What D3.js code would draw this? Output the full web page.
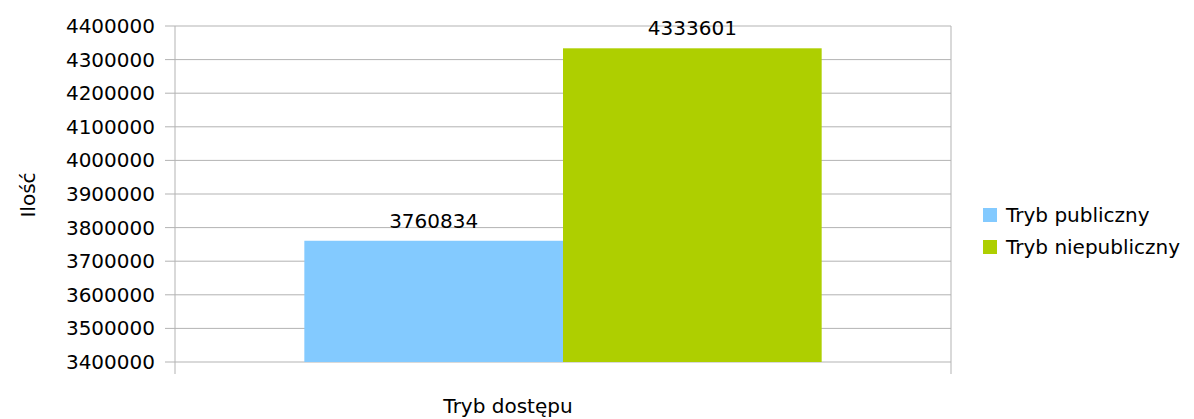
<!DOCTYPE html>
<html>
<head>
<meta charset="utf-8">
<script src="https://cdn.jsdelivr.net/npm/d3@7"></script>
<style>
  body { margin: 0; background: #fff; }
  text { font-family: "DejaVu Sans", sans-serif; fill: #000; }
</style>
</head>
<body>
<svg class="chart-svg" width="1194" height="419"></svg>
<script>
// chart values
const categories = ['Tryb dostępu']
const seriesNames = ['Tryb publiczny', 'Tryb niepubliczny']
const seriesValues = [3760834, 4333601]
const seriesColors = ['#83caff', '#aecf00']
const yTicks = [3400000, 3500000, 3600000, 3700000, 3800000, 3900000, 4000000, 4100000, 4200000, 4300000, 4400000]

const margin = { top: 26, left: 175, right: 243, bottom: 57 }
const width = 1194 - margin.left - margin.right
const height = 419 - margin.top - margin.bottom

const svg = d3.select('.chart-svg')
const g = svg.append('g').attr('transform', `translate(${margin.left},${margin.top})`)

const x = d3.scaleBand().domain(categories).range([0, width]).paddingInner(0).paddingOuter(0)
const inner = d3.scaleBand().domain(seriesNames)
  .range([x.bandwidth() / 6, x.bandwidth() * 5 / 6])
const y = d3.scaleLinear().domain([3400000, 4400000]).range([height, 0])

// horizontal grid lines with left ticks
g.selectAll('.grid')
  .data(yTicks)
  .enter().append('line')
  .attr('class', 'grid')
  .attr('x1', -10)
  .attr('x2', width)
  .attr('y1', d => y(d))
  .attr('y2', d => y(d))
  .attr('stroke', '#b3b3b3')
  .attr('stroke-width', 1)

// y axis labels
g.selectAll('.y-label')
  .data(yTicks)
  .enter().append('text')
  .attr('class', 'y-label')
  .attr('x', -20)
  .attr('y', d => y(d))
  .attr('dy', '.35em')
  .attr('text-anchor', 'end')
  .style('font-size', '20px')
  .text(d => d)

// vertical lines at the category edges
const edges = [0, width]
g.selectAll('.edge')
  .data(edges)
  .enter().append('line')
  .attr('class', 'edge')
  .attr('x1', d => d)
  .attr('x2', d => d)
  .attr('y1', 0)
  .attr('y2', height + 12)
  .attr('stroke', '#b3b3b3')
  .attr('stroke-width', 1)

// bars
const bars = seriesNames.map((name, i) => ({ category: categories[0], name, value: seriesValues[i], color: seriesColors[i] }))
g.selectAll('.bar')
  .data(bars)
  .enter().append('rect')
  .attr('class', 'bar')
  .attr('x', d => x(d.category) + inner(d.name))
  .attr('y', d => y(d.value))
  .attr('width', inner.bandwidth())
  .attr('height', d => height - y(d.value))
  .attr('fill', d => d.color)

// value labels
g.selectAll('.value-label')
  .data(bars)
  .enter().append('text')
  .attr('class', 'value-label')
  .attr('x', d => x(d.category) + inner(d.name) + inner.bandwidth() / 2)
  .attr('y', d => y(d.value) - 13)
  .attr('text-anchor', 'middle')
  .style('font-size', '20px')
  .text(d => d.value)

// axis titles
svg.append('text')
  .attr('x', 508)
  .attr('y', 413)
  .attr('text-anchor', 'middle')
  .style('font-size', '20px')
  .text(categories[0])

svg.append('text')
  .attr('transform', 'translate(35,195) rotate(-90)')
  .attr('text-anchor', 'middle')
  .style('font-size', '20px')
  .text('Ilość')

// legend
const legend = svg.append('g').attr('transform', 'translate(983,208)')
const items = legend.selectAll('.legend-item')
  .data(bars)
  .enter().append('g')
  .attr('class', 'legend-item')
  .attr('transform', (d, i) => `translate(0,${i * 32})`)
items.append('rect')
  .attr('width', 14)
  .attr('height', 14)
  .attr('fill', d => d.color)
items.append('text')
  .attr('x', 23)
  .attr('y', 7)
  .attr('dy', '.35em')
  .style('font-size', '20px')
  .text(d => d.name)
</script>
</body>
</html>
